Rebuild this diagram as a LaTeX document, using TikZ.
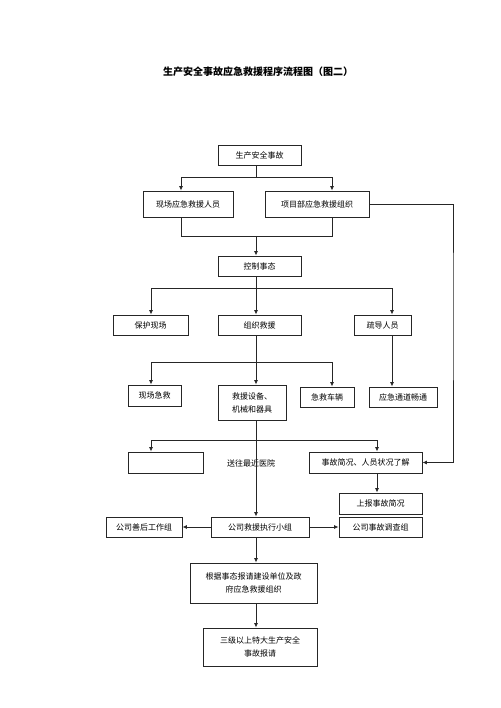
\documentclass[tikz,border=0pt]{standalone}
\usepackage{fontspec}
\setmainfont{Noto Sans CJK SC}
\usetikzlibrary{arrows.meta}

\begin{document}
\begin{tikzpicture}[x=1pt,y=-1pt,
		box/.style={draw=black!85, line width=0.9pt, fill=white, inner sep=1pt, align=center,
			font=\fontsize{8}{13}\selectfont},
		line/.style={draw=black!85, line width=0.8pt},
		arr/.style={line, -{Latex[length=4.5pt,width=4pt]}}]
		\useasboundingbox (0,0) rectangle (500,708);

		\node[font=\fontsize{10}{12}\selectfont\bfseries] (title) at (258,72) {生产安全事故应急救援程序流程图（图二）};

		% top of the chart
		\node[box, minimum width=83, minimum height=20] (acc) at (259.5,155) {生产安全事故};
		\node[box, minimum width=90, minimum height=26] (site) at (188,204) {现场应急救援人员};
		\node[box, minimum width=104, minimum height=26] (proj) at (317,204) {项目部应急救援组织};
		\node[box, minimum width=83, minimum height=20] (ctrl) at (259.5,266) {控制事态};

		\node[box, minimum width=75, minimum height=20] (protect) at (150.5,325) {保护现场};
		\node[box, minimum width=83, minimum height=20] (org) at (259.5,325) {组织救援};
		\node[box, minimum width=57, minimum height=20] (guide) at (382.5,325) {疏导人员};

		\node[box, minimum width=53, minimum height=21] (firstaid) at (154.5,395.5) {现场急救};
		\node[box, minimum width=68, minimum height=35] (equip) at (252,402.5) {救援设备、\\机械和器具};
		\node[box, minimum width=54, minimum height=20] (vehicle) at (327,397) {急救车辆};
		\node[box, minimum width=68, minimum height=20] (channel) at (403,397) {应急通道畅通};

		\node[box, minimum width=75, minimum height=21] (empty) at (165.5,462.5) {};
		\node[font=\fontsize{8}{10}\selectfont, inner sep=1pt] (hospital) at (251,463) {送往最近医院};
		\node[box, minimum width=113, minimum height=21] (brief) at (365.5,462.5) {事故简况、人员状况了解};
		\node[box, minimum width=83, minimum height=21] (report) at (380.5,503.5) {上报事故简况};

		\node[box, minimum width=76, minimum height=20] (aftermath) at (144,527) {公司善后工作组};
		\node[box, minimum width=98, minimum height=20] (exec) at (260,527) {公司救援执行小组};
		\node[box, minimum width=83, minimum height=20] (invest) at (380.5,527) {公司事故调查组};

		\node[box, minimum width=127, minimum height=40] (gov) at (253.5,583) {根据事态报请建设单位及政\\府应急救援组织};
		\node[box, minimum width=114, minimum height=38] (level) at (260,647) {三级以上特大生产安全\\事故报请};

		% junctions
		\coordinate (m1) at (256,177);
		\coordinate (b1) at (181,177);
		\coordinate (b2) at (332,177);
		\coordinate (m2) at (256,236);
		\coordinate (r1) at (453,300);
		\coordinate (m3) at (256,288);
		\coordinate (b3) at (151,288);
		\coordinate (b4) at (392,288);
		\coordinate (m4) at (256,362);
		\coordinate (b5) at (151,362);
		\coordinate (b6) at (332,362);
		\coordinate (m5) at (256,440);
		\coordinate (b7) at (151,440);
		\coordinate (b8) at (377,440);

		% connectors
		\draw[line] (acc.south -| m1) -- (m1);
		\draw[arr] (m1) -| (site.north -| b1);
		\draw[arr] (m1) -| (proj.north -| b2);

		\draw[line] (site.south -| b1) |- (m2);
		\draw[line] (proj.south -| b2) |- (m2);
		\draw[arr] (m2) -- (ctrl.north -| m2);
		\draw[arr] (proj.east) -| (r1) |- (brief.east);

		\draw[line] (ctrl.south -| m3) -- (m3);
		\draw[arr] (m3) -| (protect.north -| b3);
		\draw[arr] (m3) -| (guide.north -| b4);
		\draw[arr] (m3) -- (org.north -| m3);

		\draw[line] (org.south -| m4) -- (m4);
		\draw[arr] (m4) -| (firstaid.north -| b5);
		\draw[arr] (m4) -| (vehicle.north -| b6);
		\draw[arr] (m4) -- (equip.north -| m4);
		\draw[arr] (guide.south -| b4) -- (channel.north -| b4);

		\draw[arr] (equip.south -| m5) -- (exec.north -| m5);
		\draw[arr] (m5) -| (empty.north -| b7);
		\draw[arr] (m5) -| (brief.north -| b8);
		\draw[arr] (brief.south -| b8) -- (report.north -| b8);

		\draw[arr] (exec.west) -- (aftermath.east);
		\draw[arr] (exec.east) -- (invest.west);
		\draw[arr] (exec.south -| m5) -- (gov.north -| m5);
		\draw[arr] (gov.south -| m5) -- (level.north -| m5);
	\end{tikzpicture}
\end{document}
